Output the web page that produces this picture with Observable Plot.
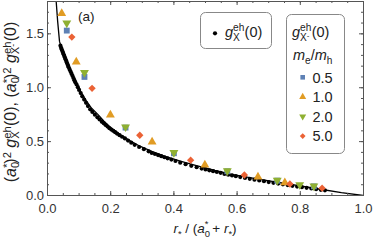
<!DOCTYPE html>
<html><head><meta charset="utf-8">
<script src="https://cdn.jsdelivr.net/npm/d3@7"></script>
<script src="https://cdn.jsdelivr.net/npm/@observablehq/plot@0.6"></script>
<style>
body{margin:0;background:#fff;}
#chart svg{display:block;}
</style>
</head><body><div id="chart"></div>
<script>
// solid reference curve
const curveX = [0.0275,0.032,0.038,0.046,0.054,0.07,0.085,0.104,0.12,0.138,0.16,0.178,0.2,0.23,0.263,0.294,0.33,0.368,0.42,0.474,0.53,0.579,0.64,0.706,0.785,0.864,0.93,1.0];
const curveY = [1.80,1.62,1.43,1.35,1.28,1.18,1.09,0.97,0.89,0.815,0.75,0.692,0.63,0.565,0.506,0.455,0.41,0.368,0.32,0.275,0.232,0.198,0.165,0.134,0.097,0.058,0.026,0.0];
// g_X^eh(0) black dots
const dotX = [0.041,0.043,0.045,0.047,0.049,0.051,0.053,0.055,0.057,0.059,0.061,0.063,0.065,0.067,0.070,0.073,0.076,0.079,0.082,0.085,0.088,0.092,0.096,0.100,0.105,0.110,0.116,0.122,0.128,0.135,0.142,0.150,0.158,0.165,0.172,0.178,0.184,0.190,0.196,0.202,0.208,0.214,0.220,0.228,0.236,0.245,0.255,0.265,0.276,0.290,0.305,0.320,0.330,0.340,0.350,0.360,0.370,0.380,0.392,0.405,0.420,0.437,0.455,0.472,0.488,0.500,0.512,0.524,0.536,0.548,0.560,0.572,0.584,0.596,0.610,0.625,0.640,0.655,0.670,0.685,0.700,0.715,0.730,0.745,0.760,0.775,0.790,0.805,0.820,0.835,0.850,0.865,0.878];
const dotY = [1.39,1.37,1.355,1.34,1.325,1.31,1.295,1.28,1.265,1.25,1.235,1.22,1.205,1.19,1.17,1.15,1.13,1.11,1.09,1.07,1.05,1.03,1.005,0.98,0.95,0.92,0.89,0.86,0.83,0.80,0.775,0.75,0.725,0.705,0.685,0.67,0.655,0.64,0.625,0.612,0.60,0.588,0.575,0.56,0.545,0.53,0.51,0.49,0.47,0.45,0.43,0.41,0.395,0.385,0.375,0.365,0.355,0.345,0.333,0.32,0.305,0.29,0.275,0.262,0.25,0.242,0.234,0.226,0.218,0.21,0.2,0.193,0.186,0.179,0.171,0.163,0.155,0.147,0.139,0.132,0.125,0.118,0.111,0.104,0.097,0.09,0.083,0.077,0.071,0.065,0.059,0.053,0.048];
// g_X-^eh(0) series, me/mh
const seriesNames = ["0.5","1.0","2.0","5.0"];
const seriesColors = ["#5E81B5","#E19C24","#8FB032","#EB6235"];
const seriesSymbols = ["square","triangle","triangle","diamond2"];
const seriesRotate = [0,0,180,0];
const s05X = [0.061,0.117,0.247,0.400,0.569,0.727,0.843];
const s05Y = [1.53,1.10,0.630,0.392,0.225,0.138,0.085];
const s10X = [0.045,0.091,0.199,0.331,0.498,0.666,0.751];
const s10Y = [1.69,1.24,0.747,0.497,0.284,0.173,0.120];
const s20X = [0.061,0.117,0.247,0.400,0.569,0.727,0.798,0.843];
const s20Y = [1.60,1.14,0.636,0.398,0.229,0.140,0.100,0.088];
const s50X = [0.077,0.141,0.292,0.453,0.623,0.767,0.869];
const s50Y = [1.47,0.994,0.559,0.328,0.190,0.107,0.068];
// ticks
const xTicks = [0,0.2,0.4,0.6,0.8,1.0];
const xMinor = [0,0.05,0.1,0.15,0.2,0.25,0.3,0.35,0.4,0.45,0.5,0.55,0.6,0.65,0.7,0.75,0.8,0.85,0.9,0.95,1.0];
const yTicks = [0,0.5,1.0,1.5];
const yMinor = [0,0.1,0.2,0.3,0.4,0.5,0.6,0.7,0.8,0.9,1.0,1.1,1.2,1.3,1.4,1.5,1.6,1.7,1.8];

const W = 374, H = 240, mL = 47, mR = 11, mT = 1, mB = 45;
const pw = W - mL - mR, ph = H - mT - mB;
const curve = curveX.map((x,i)=>({x, y: curveY[i]}));
const dots = dotX.map((x,i)=>({x, y: dotY[i]}));
const seriesX = [s05X,s10X,s20X,s50X], seriesY = [s05Y,s10Y,s20Y,s50Y];
const seriesData = seriesX.map((xs,k)=>xs.map((x,i)=>({x, y: seriesY[k][i]})));
const frameColor = "#555";

const marks = [
  Plot.line(curve, {x:"x", y:"y", stroke:"black", strokeWidth:1.3, clip:true}),
  Plot.dot(dots, {x:"x", y:"y", r:2.1, fill:"black", stroke:"none"}),
];
seriesData.forEach((d,k)=>{
  marks.push(Plot.dot(d, {x:"x", y:"y", symbol: seriesSymbols[k], rotate: seriesRotate[k], r: 3.3, fill: seriesColors[k], stroke:"none"}));
});
marks.push(
  Plot.frame({stroke: frameColor}),
  Plot.tickX(xTicks, {x: d=>d, insetTop: ph-4, stroke: frameColor}),
  Plot.tickX(xTicks, {x: d=>d, insetBottom: ph-4, stroke: frameColor}),
  Plot.tickX(xMinor, {x: d=>d, insetTop: ph-2, stroke: frameColor}),
  Plot.tickX(xMinor, {x: d=>d, insetBottom: ph-2, stroke: frameColor}),
  Plot.tickY(yTicks, {y: d=>d, insetRight: pw-4, stroke: frameColor}),
  Plot.tickY(yTicks, {y: d=>d, insetLeft: pw-4, stroke: frameColor}),
  Plot.tickY(yMinor, {y: d=>d, insetRight: pw-2, stroke: frameColor}),
  Plot.tickY(yMinor, {y: d=>d, insetLeft: pw-2, stroke: frameColor}),
  Plot.axisX({ticks: xTicks, tickSize: 0, tickPadding: 8.5, fontSize: 13, tickFormat: d3.format(".1f"), label: null}),
  Plot.axisY({ticks: yTicks, tickSize: 0, tickPadding: 3.5, fontSize: 13, tickFormat: d3.format(".1f"), label: null})
);

const plot = Plot.plot({
  width: W, height: H, marginLeft: mL, marginRight: mR, marginTop: mT, marginBottom: mB,
  x: {domain: [0,1]}, y: {domain: [0,1.8]},
  style: {fontFamily: "'Liberation Sans', Arial, sans-serif", fontSize: "13px", color: "#333", background: "#fff"},
  marks
});
document.getElementById("chart").appendChild(plot);

const svg = d3.select(plot);
const FONT = "'Liberation Sans', Arial, sans-serif";
// rich text helper: segments {t, off (baseline offset, em), size (em), it, dx (em)}
function rich(sel, base, segs) {
  let cur = 0;
  segs.forEach(s => {
    const off = (s.off || 0) * base;
    const ts = sel.append("tspan").text(s.t)
      .attr("dy", off - cur).attr("font-size", (s.size || 1) * base);
    if (s.dx) ts.attr("dx", s.dx * base);
    if (s.it) ts.attr("font-style", "italic");
    cur = off;
  });
}
function txt(x, y, anchor) {
  return svg.append("text").attr("x", x).attr("y", y).attr("text-anchor", anchor)
    .attr("font-family", FONT).attr("fill", "#222");
}
function mk(SUB, SUP) {
  const SS = 0.7;
  return {
    SS, SUB, SUP,
    aStar: [{t:"("},{t:"a", it:true},{t:"0", off:SUB, size:SS},{t:"*", off:SUP, size:SS, dx:-0.39},{t:")"},{t:"2", off:SUP, size:SS}],
    gX: [{t:" g", it:true},{t:"eh", off:SUP, size:SS},{t:"X", off:SUB, size:SS, dx:-0.78}]
  };
}
const T = mk(0.26, -0.41);
const TY = mk(0.2, -0.34);
const ylabel = svg.append("text").attr("transform", `translate(16,102) rotate(-90)`)
  .attr("text-anchor","middle").attr("font-family",FONT).attr("fill","#222");
rich(ylabel, 16, [
  ...TY.aStar, ...TY.gX, {t:"(0), ", dx:0.33}, ...TY.aStar, ...TY.gX, {t:"-", off:TY.SUB-0.22, size:0.55}, {t:"(0)", dx:0.15}
]);
const xlabel = txt(mL+pw/2, 233, "middle");
rich(xlabel, 13.5, [
  {t:"r", it:true},{t:"*", off:T.SUB, size:T.SS},{t:" / ("},{t:"a", it:true},{t:"0", off:T.SUB, size:T.SS},{t:"*", off:T.SUP, size:T.SS, dx:-0.39},
  {t:" + "},{t:"r", it:true},{t:"*", off:T.SUB, size:T.SS},{t:")"}
]);
txt(78, 21, "start").attr("font-size", 13.5).text("(a)");

// legend 1
svg.append("rect").attr("x",200.5).attr("y",12.5).attr("width",71).attr("height",36).attr("rx",5)
  .attr("fill","#fff").attr("stroke","#888");
svg.append("circle").attr("cx",215).attr("cy",33.3).attr("r",2.1).attr("fill","black");
const l1 = txt(221, 37, "start");
rich(l1, 14.5, [...T.gX, {t:"(0)", dx:0.33}]);
// legend 2
svg.append("rect").attr("x",286.5).attr("y",14.5).attr("width",58).attr("height",139).attr("rx",5)
  .attr("fill","#fff").attr("stroke","#888");
const l2 = txt(288, 37, "start");
rich(l2, 14.5, [...T.gX, {t:"-", off:T.SUB-0.22, size:0.55}, {t:"(0)", dx:0.15}]);
const l3 = txt(293, 60, "start");
rich(l3, 14.5, [{t:"m", it:true},{t:"e", off:T.SUB, size:T.SS},{t:"/"},{t:"m", it:true},{t:"h", off:T.SUB, size:T.SS}]);
const symMap = {square: d3.symbolSquare, triangle: d3.symbolTriangle, diamond2: d3.symbolDiamond2};
seriesNames.forEach((n,k)=>{
  const cy = 77.3 + k*19.6;
  svg.append("path").attr("d", d3.symbol(symMap[seriesSymbols[k]], Math.PI*2.6*2.6)())
    .attr("transform", `translate(302.7,${cy}) rotate(${seriesRotate[k]})`).attr("fill", seriesColors[k]);
  txt(312.5, cy + 5.2, "start").attr("font-size", 14.5).text(n);
});
</script>
</body></html>
